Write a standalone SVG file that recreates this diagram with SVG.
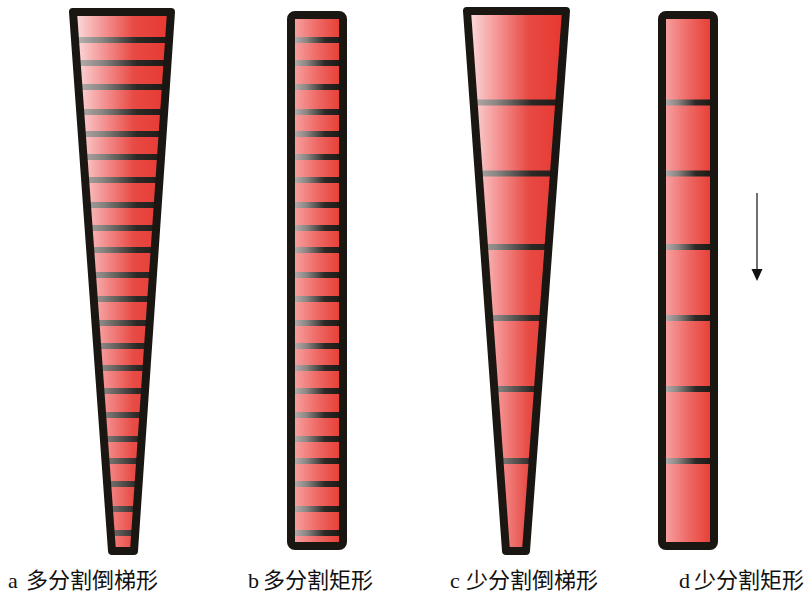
<svg xmlns="http://www.w3.org/2000/svg" width="807" height="595" viewBox="0 0 807 595">
<style>
.outline{fill:none;stroke:#1a1713;stroke-width:8;stroke-linejoin:round}
.lbl{font-family:"Liberation Serif","Noto Sans CJK SC",serif;font-size:22px;fill:#111}
</style>
<defs>
<linearGradient id="trapG" x1="0" y1="0" x2="1" y2="0">
<stop offset="0" stop-color="#fde2e2"/>
<stop offset="0.3" stop-color="#f49797"/>
<stop offset="0.62" stop-color="#e84a44"/>
<stop offset="1" stop-color="#e6372f"/>
</linearGradient>
<linearGradient id="rectG" x1="0" y1="0" x2="1" y2="0">
<stop offset="0" stop-color="#f7a9a9"/>
<stop offset="0.5" stop-color="#ee6a66"/>
<stop offset="1" stop-color="#e6392f"/>
</linearGradient>
<linearGradient id="bandG" x1="0" y1="0" x2="1" y2="0">
<stop offset="0" stop-color="#bdb7b5"/>
<stop offset="0.3" stop-color="#8a8583"/>
<stop offset="0.65" stop-color="#2c2927"/>
<stop offset="1" stop-color="#1a1713"/>
</linearGradient>
<clipPath id="clipA"><path d="M73,12 L171,12 L134,551 L112,551 Z"/></clipPath>
<clipPath id="clipB"><rect x="291" y="15" width="52" height="531" rx="4"/></clipPath>
<clipPath id="clipC"><path d="M467,11 L566,11 L526,551 L506,551 Z"/></clipPath>
<clipPath id="clipD"><rect x="662" y="15" width="52" height="531" rx="4"/></clipPath>
<g id="bands22">
<rect x="0" y="37" width="100" height="6"/>
<rect x="0" y="60" width="100" height="6"/>
<rect x="0" y="84" width="100" height="6"/>
<rect x="0" y="109" width="100" height="6"/>
<rect x="0" y="131" width="100" height="6"/>
<rect x="0" y="154" width="100" height="6"/>
<rect x="0" y="177" width="100" height="6"/>
<rect x="0" y="202" width="100" height="6"/>
<rect x="0" y="225" width="100" height="6"/>
<rect x="0" y="247" width="100" height="6"/>
<rect x="0" y="272" width="100" height="6"/>
<rect x="0" y="296" width="100" height="6"/>
<rect x="0" y="320" width="100" height="6"/>
<rect x="0" y="343" width="100" height="6"/>
<rect x="0" y="365" width="100" height="6"/>
<rect x="0" y="388" width="100" height="6"/>
<rect x="0" y="412" width="100" height="6"/>
<rect x="0" y="436" width="100" height="6"/>
<rect x="0" y="458" width="100" height="6"/>
<rect x="0" y="481" width="100" height="6"/>
<rect x="0" y="506" width="100" height="6"/>
<rect x="0" y="530" width="100" height="6"/>
</g>
<g id="bands6">
<rect x="0" y="99.5" width="100" height="6"/>
<rect x="0" y="170.5" width="100" height="6"/>
<rect x="0" y="244" width="100" height="6"/>
<rect x="0" y="315" width="100" height="6"/>
<rect x="0" y="386" width="100" height="6"/>
<rect x="0" y="458" width="100" height="6"/>
</g>
</defs>

<g id="node-a">
<path d="M73,12 L171,12 L134,551 L112,551 Z" fill="url(#trapG)"/>
<g clip-path="url(#clipA)">
<use href="#bands22" transform="translate(73,0) scale(0.98,1)" fill="url(#bandG)"/>
</g>
<path class="outline" d="M73,12 L171,12 L134,551 L112,551 Z"/>
</g>

<g id="node-b">
<rect x="291" y="15" width="52" height="531" rx="4" fill="url(#rectG)"/>
<g clip-path="url(#clipB)">
<use href="#bands22" transform="translate(291,0) scale(0.52,1)" fill="url(#bandG)"/>
</g>
<rect class="outline" x="291" y="15" width="52" height="531" rx="4"/>
</g>

<g id="node-c">
<path d="M467,11 L566,11 L526,551 L506,551 Z" fill="url(#trapG)"/>
<g clip-path="url(#clipC)">
<use href="#bands6" transform="translate(467,0) scale(0.99,1)" fill="url(#bandG)"/>
</g>
<path class="outline" d="M467,11 L566,11 L526,551 L506,551 Z"/>
</g>

<g id="node-d">
<rect x="662" y="15" width="52" height="531" rx="4" fill="url(#rectG)"/>
<g clip-path="url(#clipD)">
<use href="#bands6" transform="translate(662,0) scale(0.52,1)" fill="url(#bandG)"/>
</g>
<rect class="outline" x="662" y="15" width="52" height="531" rx="4"/>
</g>

<g id="connectors">
<line x1="757" y1="193" x2="757" y2="272" stroke="#333" stroke-width="1.4"/>
<path d="M751.5,269 L762.5,269 L757,281 Z" fill="#111"/>
</g>

<g id="labels">
<text class="lbl" x="8" y="588">a<tspan x="26">多分割倒梯形</tspan></text>
<text class="lbl" x="248" y="588">b<tspan x="263">多分割矩形</tspan></text>
<text class="lbl" x="450" y="588">c<tspan x="466">少分割倒梯形</tspan></text>
<text class="lbl" x="679" y="588">d<tspan x="694">少分割矩形</tspan></text>
</g>
</svg>
